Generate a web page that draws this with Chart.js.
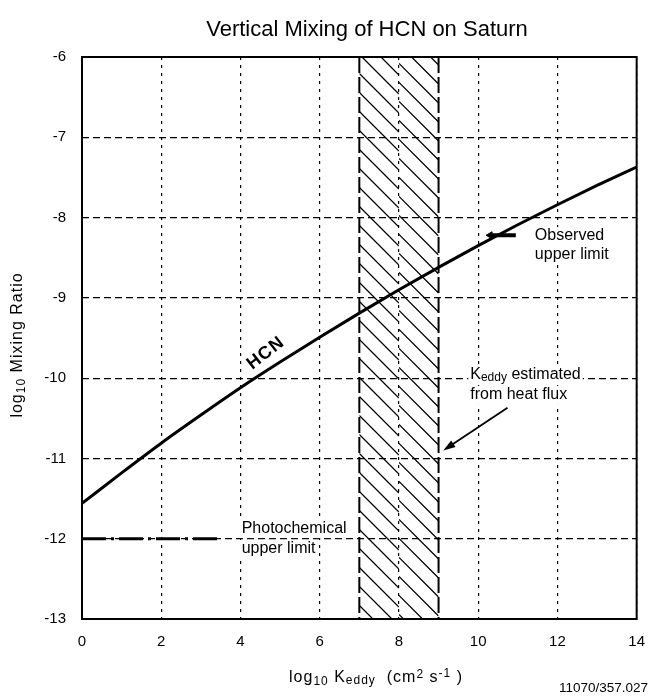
<!DOCTYPE html>
<html>
<head>
<meta charset="utf-8">
<script src="https://cdn.jsdelivr.net/npm/chart.js@4.4.1/dist/chart.umd.min.js"></script>
<style>
  html, body { margin: 0; padding: 0; background: #fff; }
</style>
</head>
<body>
<canvas id="chart" width="659" height="698"></canvas>
<script>
// values
const kEddyLog = [0, 1, 2, 3, 4, 5, 6, 7, 8, 9, 10, 11, 12, 13, 14];
const hcnLogMix = [-11.56, -11.18, -10.81, -10.46, -10.12, -9.80, -9.49, -9.19, -8.90, -8.62, -8.35, -8.09, -7.84, -7.60, -7.37];
const photochemK = [0, 3.5];
const photochemLimit = [-12, -12];
const observedK = [10.3, 10.95];
const observedLimit = [-8.22, -8.22];
const heatFluxK = [7, 9];
const xTicks = [0, 2, 4, 6, 8, 10, 12, 14];
const yTicks = [-13, -12, -11, -10, -9, -8, -7, -6];

const FONT = "'Liberation Sans', Arial, sans-serif";

function pts(xs, ys) {
    return xs.map((x, i) => ({x: x, y: ys[i]}));
}

// text with sub/superscript runs
function runsWidth(ctx, runs) {
    let w = 0;
    runs.forEach(r => {
        ctx.font = r.size + 'px ' + FONT;
        w += ctx.measureText(r.t).width;
    });
    return w;
}

function drawRuns(ctx, runs, x, y, align) {
    const w = runsWidth(ctx, runs);
    let cx = align === 'center' ? x - w / 2 : (align === 'right' ? x - w : x);
    ctx.textAlign = 'left';
    ctx.textBaseline = 'middle';
    runs.forEach(r => {
        ctx.font = r.size + 'px ' + FONT;
        ctx.fillText(r.t, cx, y + (r.dy || 0));
        cx += ctx.measureText(r.t).width;
    });
}

function label(ctx, lines, x, y, lh) {
    lines.forEach((runs, i) => {
        const w = runsWidth(ctx, runs);
        ctx.fillStyle = '#fff';
        ctx.fillRect(x - 2, y + i * lh - 9, w + 4, 18);
        ctx.fillStyle = '#000';
        drawRuns(ctx, runs, x, y + i * lh, 'left');
    });
}

const decor = {
    id: 'decor',
    beforeDatasetsDraw(chart) {
        const {ctx, chartArea: a, scales: {x}} = chart;
        const x0 = x.getPixelForValue(heatFluxK[0]);
        const x1 = x.getPixelForValue(heatFluxK[1]);
        const xm = x.getPixelForValue((heatFluxK[0] + heatFluxK[1]) / 2);
        ctx.save();
        ctx.strokeStyle = '#000';
        ctx.lineWidth = 1.3;
        // hatching, one column per unit, offset between columns
        [[x0, xm, 0], [xm, x1, 9]].forEach(([l, r, off]) => {
            ctx.save();
            ctx.beginPath();
            ctx.rect(l, a.top, r - l, a.bottom - a.top);
            ctx.clip();
            const drop = (r - l) * 1.0;
            ctx.beginPath();
            for (let yy = a.top - drop - 20 + off; yy < a.bottom + 20; yy += 19) {
                ctx.moveTo(l, yy);
                ctx.lineTo(r, yy + drop);
            }
            ctx.stroke();
            ctx.restore();
        });
        ctx.lineWidth = 2;
        ctx.setLineDash([16, 4]);
        [x0, x1].forEach(px => {
            ctx.beginPath();
            ctx.moveTo(px, a.top);
            ctx.lineTo(px, a.bottom);
            ctx.stroke();
        });
        ctx.restore();
    },
    afterDatasetsDraw(chart) {
        const {ctx, chartArea: a, scales: {x, y}} = chart;
        ctx.save();
        ctx.fillStyle = '#000';
        ctx.strokeStyle = '#000';

        // frame
        ctx.lineWidth = 2;
        ctx.strokeRect(a.left, a.top, a.right - a.left, a.bottom - a.top);

        // title
        ctx.font = '22px ' + FONT;
        ctx.textAlign = 'center';
        ctx.textBaseline = 'middle';
        ctx.fillText('Vertical Mixing of HCN on Saturn', 367, 30);

        // axis titles
        ctx.letterSpacing = '1px';
        ctx.save();
        ctx.translate(18, 345);
        ctx.rotate(-Math.PI / 2);
        drawRuns(ctx, [{t: 'log', size: 16}, {t: '10', size: 12, dy: 4}, {t: ' Mixing Ratio', size: 16}], 0, 0, 'center');
        ctx.restore();
        drawRuns(ctx, [
            {t: 'log', size: 16}, {t: '10', size: 12, dy: 4}, {t: ' K', size: 16},
            {t: 'eddy', size: 12, dy: 3}, {t: '  (cm', size: 16}, {t: '2', size: 12, dy: -3},
            {t: ' s', size: 16}, {t: '-1', size: 12, dy: -4}, {t: ' )', size: 16}
        ], 376, 678, 'center');
        ctx.letterSpacing = '0px';
        ctx.font = '13.5px ' + FONT;
        ctx.textAlign = 'right';
        ctx.fillText('11070/357.027', 648, 688);

        // HCN curve label
        ctx.save();
        ctx.translate(x.getPixelForValue(4.64), y.getPixelForValue(-9.69));
        ctx.rotate(-38 * Math.PI / 180);
        ctx.font = 'bold 18px ' + FONT;
        ctx.letterSpacing = '1px';
        ctx.textAlign = 'center';
        ctx.fillText('HCN', 0, 0);
        ctx.restore();

        // annotations
        label(ctx, [[{t: 'Observed', size: 16}], [{t: 'upper limit', size: 16}]],
            x.getPixelForValue(11.43), y.getPixelForValue(-8.23), 19);
        label(ctx, [[{t: 'Photochemical', size: 16}], [{t: 'upper limit', size: 16}]],
            x.getPixelForValue(4.03), y.getPixelForValue(-11.88), 20);
        label(ctx, [[{t: 'K', size: 16}, {t: 'eddy', size: 12, dy: 3}, {t: ' estimated', size: 16}],
                    [{t: 'from heat flux', size: 16}]],
            x.getPixelForValue(9.8), y.getPixelForValue(-9.96), 20);

        // arrow to the heat-flux band
        const sx = x.getPixelForValue(10.74), sy = y.getPixelForValue(-10.37);
        const ex = x.getPixelForValue(9.12), ey = y.getPixelForValue(-10.9);
        const ang = Math.atan2(ey - sy, ex - sx);
        ctx.lineWidth = 1.8;
        ctx.beginPath();
        ctx.moveTo(sx, sy);
        ctx.lineTo(ex - 8 * Math.cos(ang), ey - 8 * Math.sin(ang));
        ctx.stroke();
        ctx.beginPath();
        ctx.moveTo(ex, ey);
        ctx.lineTo(ex - 12 * Math.cos(ang) + 4 * Math.sin(ang), ey - 12 * Math.sin(ang) - 4 * Math.cos(ang));
        ctx.lineTo(ex - 12 * Math.cos(ang) - 4 * Math.sin(ang), ey - 12 * Math.sin(ang) + 4 * Math.cos(ang));
        ctx.closePath();
        ctx.fill();
        ctx.restore();
    }
};

new Chart(document.getElementById('chart').getContext('2d'), {
    type: 'line',
    data: {
        datasets: [
            {
                label: 'HCN',
                data: pts(kEddyLog, hcnLogMix),
                borderColor: '#000',
                borderWidth: 3,
                pointRadius: 0,
                cubicInterpolationMode: 'monotone'
            },
            {
                label: 'Photochemical upper limit',
                data: pts(photochemK, photochemLimit),
                borderColor: '#000',
                borderWidth: 3,
                borderDash: [24, 5, 3, 5],
                pointRadius: 0
            },
            {
                label: 'Observed upper limit',
                data: pts(observedK, observedLimit),
                borderColor: '#000',
                backgroundColor: '#000',
                borderWidth: 4,
                pointStyle: 'triangle',
                rotation: 270,
                pointRadius: [4, 0],
                pointBorderWidth: 1
            }
        ]
    },
    options: {
        responsive: false,
        animation: false,
        devicePixelRatio: 1,
        layout: {padding: {top: 57, right: 22, left: 0, bottom: 0}},
        plugins: {legend: {display: false}, tooltip: {enabled: false}},
        scales: {
            x: {
                type: 'linear',
                min: 0,
                max: 14,
                afterFit: s => { s.height = 79; },
                afterBuildTicks: s => { s.ticks = xTicks.map(v => ({value: v})); },
                ticks: {color: '#000', font: {family: FONT, size: 15}, padding: 14},
                grid: {color: '#000', lineWidth: 1.2, drawTicks: false},
                border: {display: false, dash: [3, 5]}
            },
            y: {
                type: 'linear',
                min: -13,
                max: -6,
                afterFit: s => { s.width = 82; },
                afterBuildTicks: s => { s.ticks = yTicks.map(v => ({value: v})); },
                ticks: {color: '#000', font: {family: FONT, size: 15}, padding: 16},
                grid: {color: '#000', lineWidth: 1.2, drawTicks: false},
                border: {display: false, dash: [7, 4]}
            }
        }
    },
    plugins: [decor]
});
</script>
</body>
</html>
